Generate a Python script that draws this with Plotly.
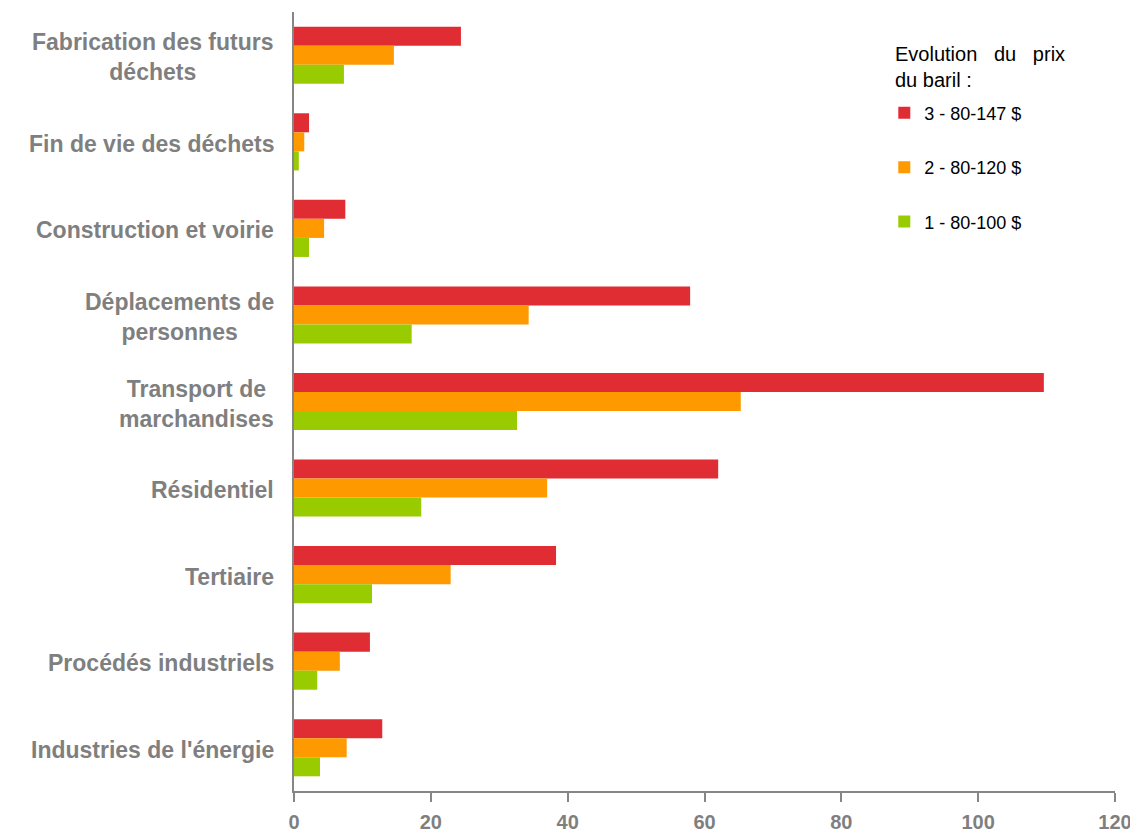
import plotly.graph_objects as go

categories = ["Fabrication des futurs<br>déchets", "Fin de vie des déchets", "Construction et voirie",
              "Déplacements de<br>personnes", "Transport de<br>marchandises", "Résidentiel",
              "Tertiaire", "Procédés industriels", "Industries de l'énergie"]
series_names = ["3 - 80-147 $", "2 - 80-120 $", "1 - 80-100 $"]
vals_147 = [24.4, 2.2, 7.5, 57.9, 109.6, 62.0, 38.3, 11.1, 12.9]
vals_120 = [14.6, 1.5, 4.4, 34.3, 65.3, 37.0, 22.9, 6.7, 7.7]
vals_100 = [7.3, 0.7, 2.2, 17.2, 32.6, 18.6, 11.4, 3.4, 3.8]
colors = ["#E02D33", "#FF9900", "#99CC00"]
x_ticks = [0, 20, 40, 60, 80, 100, 120]
legend_title = "Evolution&nbsp;&nbsp;&nbsp;du&nbsp;&nbsp;&nbsp;prix<br>du baril :"

fig = go.Figure()
for name, vals, col in zip(series_names, [vals_147, vals_120, vals_100], colors):
    fig.add_trace(go.Bar(y=categories, x=vals, name=name, orientation="h",
                         marker=dict(color=col, line=dict(width=0)), legendgroup=name))

for c in categories:
    fig.add_annotation(x=0, xref="paper", xshift=-18, xanchor="right", y=c, yref="y", yshift=-2,
                       text=c, showarrow=False, align="center",
                       font=dict(family="Liberation Sans, Arial", size=23, color="#7F7F7F", weight="bold"))

fig.add_annotation(x=0.7296, xref="paper", xanchor="left", y=0.963, yref="paper", yanchor="top",
                   text=legend_title, showarrow=False, align="left",
                   font=dict(family="Liberation Sans, Arial", size=20, color="#000000"))

fig.update_layout(
    width=1130, height=827,
    margin=dict(l=286, r=23, t=4, b=44, autoexpand=False),
    plot_bgcolor="white", paper_bgcolor="white",
    barmode="group", bargap=0.34, bargroupgap=0,
    font=dict(family="Liberation Sans, Arial", color="#000000"),
    legend=dict(x=0.719, y=0.894, xanchor="left", yanchor="top",
                font=dict(size=18), tracegroupgap=28, itemwidth=30,
                bgcolor="rgba(0,0,0,0)"),
    xaxis=dict(range=[0, 120], tickvals=x_ticks, showgrid=False, zeroline=False,
               showline=True, linecolor="#868686", linewidth=2,
               ticks="outside", ticklen=9, tickwidth=2, tickcolor="#868686",
               tickfont=dict(size=20, color="#7F7F7F", weight="bold"), ticklabelstandoff=3),
    yaxis=dict(autorange="reversed", showticklabels=False, showgrid=False, zeroline=False,
               showline=True, linecolor="#868686", linewidth=2, ticks=""),
)
fig.write_html("out.html")
